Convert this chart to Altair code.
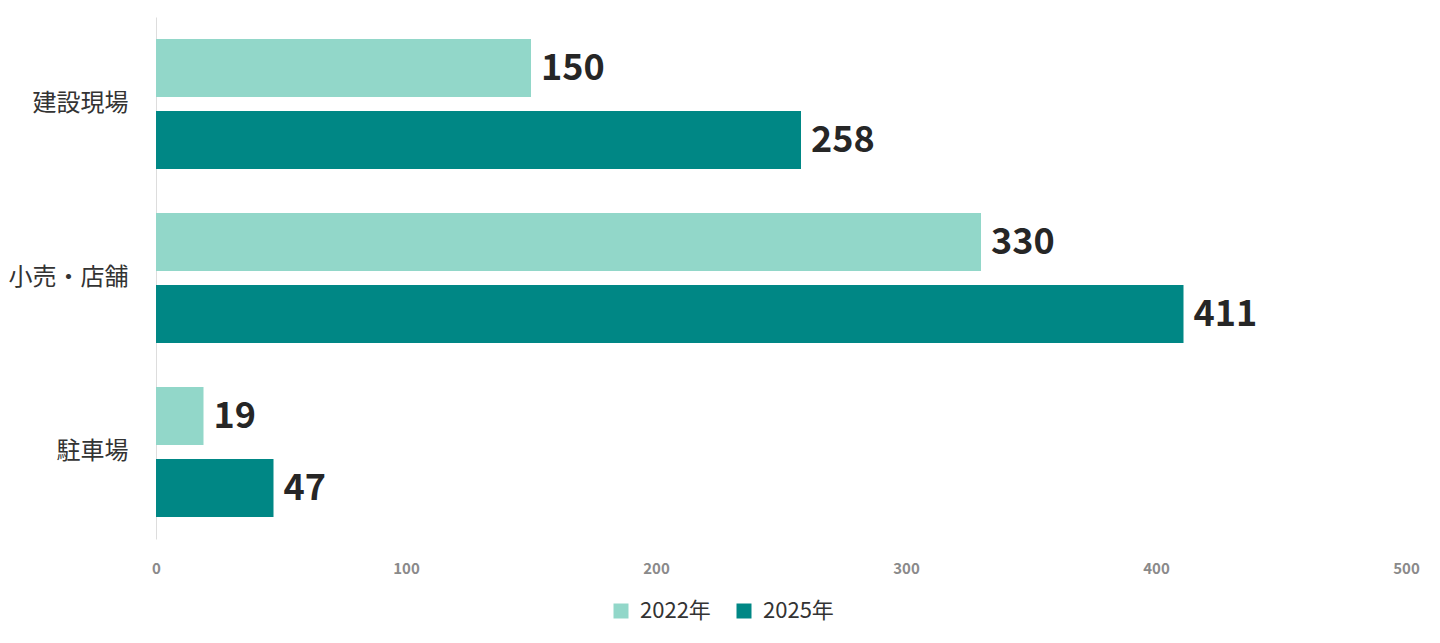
import altair as alt
import pandas as pd

categories = ["建設現場", "小売・店舗", "駐車場"]
series = ["2022年", "2025年"]
values_2022 = [150, 330, 19]
values_2025 = [258, 411, 47]
colors = ["#92d7c9", "#008785"]
x_ticks = [0, 100, 200, 300, 400, 500]

rows = []
for c, a, b in zip(categories, values_2022, values_2025):
    rows.append({"cat": c, "year": series[0], "value": a})
    rows.append({"cat": c, "year": series[1], "value": b})
df = pd.DataFrame(rows)

FONT = "Noto Sans CJK JP"

y_enc = alt.Y("cat:N", sort=categories,
              scale=alt.Scale(paddingInner=0, paddingOuter=0),
              axis=alt.Axis(title=None, ticks=False, domainColor="#dddddd",
                            domainWidth=1, labelFontSize=24, labelColor="#333333",
                            labelPadding=28, labelFont=FONT, grid=False))
yoff = alt.YOffset("year:N", sort=series,
                   scale=alt.Scale(paddingInner=0.1944, paddingOuter=0.3056))
x_enc = alt.X("value:Q",
              scale=alt.Scale(domain=[0, 500], nice=False),
              axis=alt.Axis(title=None, values=x_ticks, domain=False, ticks=False,
                            grid=False, labelFontSize=15, labelFontWeight="bold",
                            labelColor="#8a8a8a", labelPadding=22, labelFont=FONT,
                            labelFlush=False))

bars = alt.Chart(df).mark_bar().encode(
    y=y_enc, yOffset=yoff, x=x_enc,
    color=alt.Color("year:N", sort=series,
                    scale=alt.Scale(domain=series, range=colors),
                    legend=alt.Legend(title=None, orient="none", legendX=454, legendY=583,
                                      direction="horizontal", symbolType="square",
                                      symbolSize=225, symbolStrokeWidth=0,
                                      labelFontSize=22, labelColor="#333333",
                                      labelFont=FONT, labelOffset=8, columnPadding=22)),
)

labels = alt.Chart(df).mark_text(
    align="left", baseline="middle", dx=10, dy=1,
    font=FONT, fontSize=36, fontWeight="bold", color="#262626"
).encode(
    y=alt.Y("cat:N", sort=categories), yOffset=yoff,
    x=alt.X("value:Q"), text=alt.Text("value:Q"),
)

chart = alt.layer(bars, labels).properties(
    width=1250, height=522,
    autosize=alt.AutoSizeParams(type="none"),
    padding={"left": 148, "top": 9, "right": 26, "bottom": 96},
).configure(font=FONT).configure_view(strokeWidth=0, stroke=None)

chart.save("out.html", embed_options={"renderer": "svg", "actions": False})
